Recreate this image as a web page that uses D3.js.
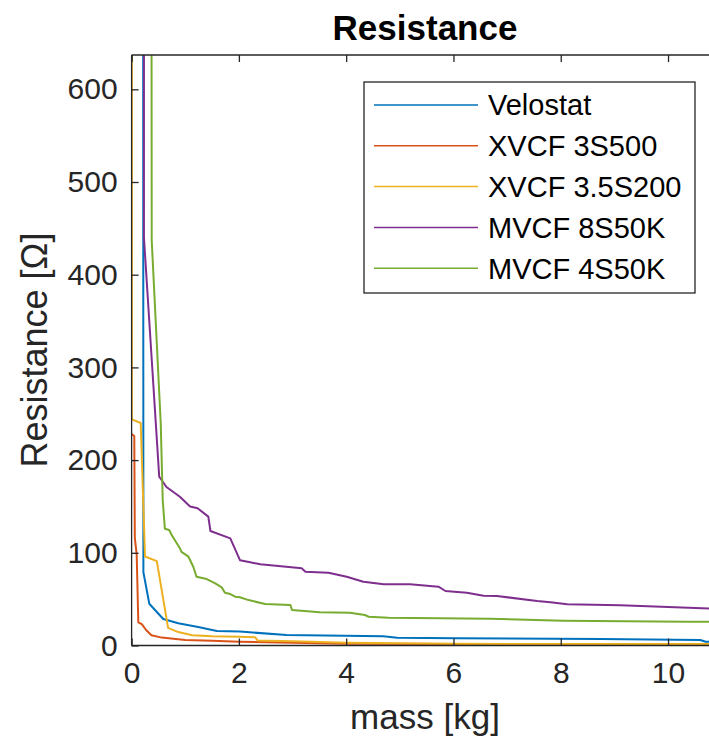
<!DOCTYPE html>
<html>
<head>
<meta charset="utf-8">
<script src="https://cdn.jsdelivr.net/npm/d3@7"></script>
<style>
  body { margin: 0; background: #fff; }
  text { font-family: "Liberation Sans", Arial, sans-serif; fill: #262626; }
</style>
</head>
<body>
<div id="chart"></div>
<script>
// series names + matlab default colours
const names = ["Velostat", "XVCF 3S500", "XVCF 3.5S200", "MVCF 8S50K", "MVCF 4S50K"];
const colors = ["#0072BD", "#D95319", "#EDB120", "#7E2F8E", "#77AC30"];

// mass [kg] / resistance [ohm]
const velostatX = [0.2, 0.22, 0.33, 0.59, 0.87, 1.24, 1.59, 2.02, 2.89, 4.69, 4.95, 6.07, 8.74, 10.6, 10.7, 10.8];
const velostatY = [3000, 79, 45, 28.6, 24, 20, 15.6, 15, 11.3, 10, 8.4, 7.8, 7, 6, 4, 4];

const xvcf3X = [0, 0.05, 0.06, 0.095, 0.125, 0.19, 0.27, 0.37, 0.56, 1.0, 1.5, 2, 3, 4, 6, 7.5, 10.8];
const xvcf3Y = [228, 226, 116, 98, 25, 23, 16.7, 11, 8.5, 6, 5, 4, 3, 2, 1.5, 1.2, 1];

const xvcf35X = [0, 0.005, 0.17, 0.25, 0.47, 0.68, 0.87, 1.13, 1.5, 2.0, 2.3, 2.35, 3, 4, 5, 6, 8, 10.8];
const xvcf35Y = [3000, 244, 240, 96, 91, 19, 14.5, 11, 10, 9.5, 9, 5.5, 4.5, 3, 2.5, 2, 1.5, 1.5];

const mvcf8X = [0.23, 0.23, 0.515, 0.65, 0.9, 1.09, 1.23, 1.43, 1.47, 1.84, 2.02, 2.21, 2.40, 3.17, 3.24, 3.67, 4.01, 4.32, 4.70, 5.19, 5.72, 5.85, 6.25, 6.56, 6.81, 7.56, 7.81, 8.12, 9.11, 10.8];
const mvcf8Y = [3000, 440, 182, 171, 160.5, 150, 148, 139, 123.5, 115.6, 92, 89.7, 87.6, 83.3, 79.6, 78.5, 74.2, 68.8, 66, 66, 63.4, 58.8, 57, 53.7, 53.4, 48, 46.6, 44.4, 43.4, 39.7];

const mvcf4X = [0.334, 0.375, 0.543, 0.58, 0.62, 0.70, 0.75, 0.90, 0.93, 1.06, 1.15, 1.21, 1.40, 1.56, 1.68, 1.74, 1.84, 1.93, 2.02, 2.18, 2.49, 2.96, 2.99, 3.51, 4.07, 4.35, 4.42, 4.79, 6.69, 8.05, 10.36, 10.8];
const mvcf4Y = [3000, 437, 240, 157, 126, 124.6, 119, 105, 101, 95.8, 85, 74.2, 71.7, 67, 62.7, 57, 55.5, 52.6, 52, 49, 44.8, 43.7, 38.3, 35.8, 35.4, 32.9, 31, 30, 28.9, 26.8, 25.7, 25.7];

const xTicks = [0, 2, 4, 6, 8, 10];
const yTicks = [0, 100, 200, 300, 400, 500, 600];

const seriesX = [velostatX, xvcf3X, xvcf35X, mvcf8X, mvcf4X];
const seriesY = [velostatY, xvcf3Y, xvcf35Y, mvcf8Y, mvcf4Y];

const W = 709, H = 744;
const pLeft = 131.6, pTop = 55, pBottom = 645.5, pRight = 719;

const x = d3.scaleLinear().domain([0, 10.95]).range([pLeft, pRight]);
const y = d3.scaleLinear().domain([0, 637]).range([pBottom, pTop]);

const svg = d3.select("#chart").append("svg")
    .attr("width", W)
    .attr("height", H);

svg.append("clipPath").attr("id", "clip")
  .append("rect")
    .attr("x", pLeft).attr("y", pTop)
    .attr("width", pRight - pLeft).attr("height", pBottom - pTop);

// lines
const line = d3.line().x(d => x(d[0])).y(d => y(d[1]));
const plot = svg.append("g").attr("clip-path", "url(#clip)");
seriesX.forEach((xs, i) => {
  plot.append("path")
      .datum(xs.map((v, j) => [v, seriesY[i][j]]))
      .attr("fill", "none")
      .attr("stroke", colors[i])
      .attr("stroke-width", 2)
      .attr("stroke-linejoin", "round")
      .attr("d", line);
});

// axes, matlab look: ticks pointing inwards, box on top
const tickLen = 7;
const xAxis = svg.append("g")
    .attr("transform", `translate(0,${pBottom})`)
    .call(d3.axisBottom(x).tickValues(xTicks).tickSizeInner(-tickLen).tickSizeOuter(0).tickPadding(16));
const yAxis = svg.append("g")
    .attr("transform", `translate(${pLeft},0)`)
    .call(d3.axisLeft(y).tickValues(yTicks).tickSizeInner(-tickLen).tickSizeOuter(0).tickPadding(14));
const topAxis = svg.append("g")
    .attr("transform", `translate(0,${pTop})`)
    .call(d3.axisTop(x).tickValues(xTicks).tickSizeInner(-tickLen).tickSizeOuter(0).tickFormat(""));

[xAxis, yAxis, topAxis].forEach(g => {
  g.select(".domain").attr("stroke", "#262626").attr("stroke-width", 1.3);
  g.selectAll(".tick line").attr("stroke", "#262626").attr("stroke-width", 1.3);
  g.selectAll(".tick text")
      .attr("font-family", "Liberation Sans, Arial, sans-serif")
      .attr("font-size", 30)
      .attr("fill", "#262626");
});
// domain lines should span the full box
xAxis.select(".domain").attr("d", `M${pLeft},0H${pRight}`);
topAxis.select(".domain").attr("d", `M${pLeft},0H${pRight}`);
yAxis.select(".domain").attr("d", `M0,${pTop}V${pBottom}`);

// title and labels
svg.append("text")
    .attr("x", 425).attr("y", 40)
    .attr("text-anchor", "middle")
    .attr("font-size", 35)
    .attr("font-weight", "bold")
    .style("fill", "#000")
    .text("Resistance");

svg.append("text")
    .attr("x", 425).attr("y", 729)
    .attr("text-anchor", "middle")
    .attr("font-size", 35)
    .text("mass [kg]");

svg.append("text")
    .attr("transform", "translate(47,350) rotate(-90)")
    .attr("text-anchor", "middle")
    .attr("font-size", 36)
    .text("Resistance [Ω]");

// legend
const lg = svg.append("g");
lg.append("rect")
    .attr("x", 364).attr("y", 82)
    .attr("width", 331).attr("height", 211)
    .attr("fill", "#fff")
    .attr("stroke", "#262626")
    .attr("stroke-width", 1.3);
names.forEach((n, i) => {
  const cy = 105 + i * 40.8;
  lg.append("line")
      .attr("x1", 374).attr("x2", 478)
      .attr("y1", cy).attr("y2", cy)
      .attr("stroke", colors[i])
      .attr("stroke-width", 1.5);
  lg.append("text")
      .attr("x", 488).attr("y", cy)
      .attr("dy", "0.36em")
      .attr("font-size", 29)
      .style("fill", "#000")
      .text(n);
});
</script>
</body>
</html>
